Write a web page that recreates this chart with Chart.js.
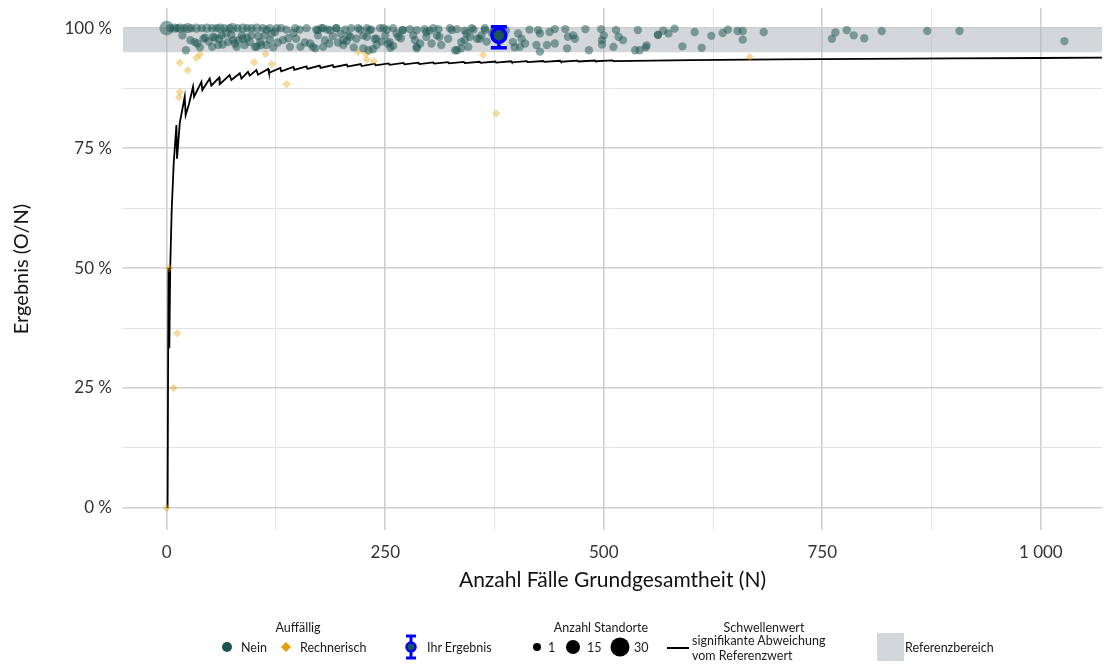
<!DOCTYPE html>
<html lang="de">
<head>
<meta charset="utf-8">
<title>Ergebnis nach Anzahl Fälle</title>
<script src="https://cdn.jsdelivr.net/npm/chart.js@4.4.1/dist/chart.umd.min.js"></script>
<style>
  html, body { margin: 0; padding: 0; background: #fff; }
  body { width: 1104px; height: 664px; position: relative; overflow: hidden; font-family: Lato, 'Open Sans', sans-serif; color: #1a1a1a; }
  .chart-box { position: absolute; left: 0; top: 0; width: 1104px; height: 600px; }
  .legend { position: absolute; left: 0; top: 0; width: 1104px; height: 664px; font-size: 12.5px; pointer-events: none; }
  .lg { position: absolute; white-space: nowrap; line-height: 1; transform: translateY(-50%); }
  .lg.center { transform: translate(-50%, -50%); }
  .sym { position: absolute; }
</style>
</head>
<body>
<div class="chart-box"><canvas id="trendChart"></canvas></div>

<!-- Legend -->
<div class="legend">
  <div class="lg center" style="left:298px; top:628px;">Auffällig</div>
  <svg class="sym" style="left:221px; top:641px;" width="12" height="12"><circle cx="6" cy="6" r="5" fill="#1b5552"/></svg>
  <div class="lg" style="left:241px; top:648px;">Nein</div>
  <svg class="sym" style="left:280px; top:641px;" width="12" height="12"><path d="M6 1 L11 6 L6 11 L1 6 Z" fill="#e69f00"/></svg>
  <div class="lg" style="left:300px; top:648px;">Rechnerisch</div>

  <svg class="sym" style="left:403px; top:634px;" width="16" height="26">
    <line x1="8" y1="2" x2="8" y2="24" stroke="#0000ff" stroke-width="3"/>
    <line x1="3" y1="2" x2="13" y2="2" stroke="#0000ff" stroke-width="3"/>
    <line x1="3" y1="24" x2="13" y2="24" stroke="#0000ff" stroke-width="3"/>
    <circle cx="8" cy="13" r="4.5" fill="#1b5552" stroke="#0000ff" stroke-width="2.5"/>
  </svg>
  <div class="lg" style="left:427px; top:648px;">Ihr Ergebnis</div>

  <div class="lg center" style="left:601px; top:628px;">Anzahl Standorte</div>
  <svg class="sym" style="left:532px; top:642px;" width="10" height="10"><circle cx="5" cy="5" r="4" fill="#000"/></svg>
  <div class="lg" style="left:548px; top:648px;">1</div>
  <svg class="sym" style="left:565px; top:639px;" width="16" height="16"><circle cx="8" cy="8" r="7" fill="#000"/></svg>
  <div class="lg" style="left:587px; top:648px;">15</div>
  <svg class="sym" style="left:610px; top:637px;" width="20" height="20"><circle cx="10" cy="10" r="9.5" fill="#000"/></svg>
  <div class="lg" style="left:634px; top:648px;">30</div>

  <svg class="sym" style="left:666px; top:645px;" width="24" height="6"><line x1="1" y1="3" x2="23" y2="3" stroke="#000" stroke-width="2"/></svg>
  <div class="lg center" style="left:764px; top:628px;">Schwellenwert</div>
  <div class="lg" style="left:692px; top:641px;">signifikante Abweichung</div>
  <div class="lg" style="left:692px; top:656px;">vom Referenzwert</div>

  <div class="sym" style="left:877px; top:633px; width:27px; height:28px; background:#d3d7da;"></div>
  <div class="lg" style="left:905px; top:648px;">Referenzbereich</div>
</div>

<script>
// ---- axis ticks ----
const xTickValues = [0, 125, 250, 375, 500, 625, 750, 875, 1000];
const xTickLabels = ['0', '', '250', '', '500', '', '750', '', '1 000'];
const yTickValues = [0, 12.5, 25, 37.5, 50, 62.5, 75, 87.5, 100];
const yTickLabels = ['0 %', '', '25 %', '', '50 %', '', '75 %', '', '100 %'];
const xRange = [-50, 1070];
const yRange = [-4.6, 104.2];

// ---- Referenzbereich ----
const refLow = 95;
const refHigh = 100;

// ---- Auffällig: Nein, Standorte mit 1 Standort (N, Ergebnis %) ----
const neinN = [
  4, 12, 20, 28, 40, 52, 57, 66, 72, 81, 92, 97, 110, 114, 118, 126,
  18, 22, 27, 32, 35, 38, 42, 44, 48, 53, 55, 52, 59, 60, 64, 63, 68, 70, 74, 76, 78, 80, 82, 86, 87, 89, 92, 95, 97, 101, 103, 105, 107, 108, 112, 114, 118, 120, 122, 124, 127,
  131, 137, 147, 152, 160, 171, 177, 184, 194, 204, 211, 221, 229, 234, 244, 252, 259,
  133, 139, 141, 145, 148, 153, 158, 164, 167, 170, 173, 179, 181, 186, 190, 196, 199, 202, 206, 208, 214, 217, 225, 231, 229, 236, 238, 240, 246, 250, 253, 256, 259,
  173, 179, 187, 194, 202, 210, 219, 225, 232, 240, 248, 255, 263,
  270, 278, 286, 295, 301, 311, 326, 332, 341, 351, 364, 372,
  270, 282, 286, 297, 305, 312, 324, 330, 337, 343, 349, 358, 364, 374,
  265, 268, 284, 286, 290, 297, 303, 309, 314, 322, 332, 337, 341, 345, 347, 355, 360, 366,
  388, 396, 398, 402, 406, 410, 404, 415, 425, 427, 423, 427, 435, 438, 444, 444, 456, 458, 459, 465, 467, 479, 483, 497, 498, 500, 498, 511, 514, 517, 522, 536, 539,
  541, 548, 549, 562, 562, 568, 574, 581, 590, 604, 612, 623, 636, 642, 653, 659, 659, 683, 761, 765, 778, 786, 798, 818, 870, 907, 1027
];
const neinY = [
  100, 100, 100, 100, 100, 100, 100, 100, 100, 100, 100, 100, 100, 99.7, 100, 100,
  98.5, 95.4, 97.5, 97.1, 96.8, 96.0, 97.8, 98.0, 97.2, 98.2, 98.0, 96.1, 96.5, 97.8, 96.6, 98.5, 98.9, 97.1, 98.6, 97.5, 96.8, 96.1, 97.5, 98.5, 97.8, 96.5, 98.0, 97.1, 98.5, 96.1, 96.1, 98.3, 97.1, 96.5, 98.5, 96.5, 97.5, 98.9, 96.0, 99.2, 97.0,
  100, 99.7, 100, 99.7, 100, 99.7, 100, 99.7, 100, 99.7, 100, 99.7, 100, 99.7, 100, 99.7, 100,
  97.5, 97.9, 96.1, 99.0, 97.8, 96.1, 97.0, 96.8, 96.1, 95.8, 98.5, 96.1, 97.5, 96.8, 98.3, 97.0, 98.8, 96.5, 97.3, 98.5, 96.0, 97.8, 95.8, 95.4, 98.2, 95.6, 97.8, 96.5, 97.2, 98.5, 96.8, 95.9, 96.3,
  99.6, 100, 99.6, 100, 97.5, 98.2, 100, 98.5, 99.6, 97.8, 100, 97.1, 98.9,
  99.6, 99.8, 99.6, 99.8, 99.5, 99.8, 99.6, 99.8, 99.5, 99.7, 99.6, 99.0,
  99.6, 98.5, 96.1, 99.2, 100, 98.2, 100, 95.4, 97.1, 98.9, 100, 97.8, 100, 99.2,
  98.2, 97.9, 97.5, 95.8, 96.8, 98.2, 96.8, 98.5, 96.5, 97.8, 95.4, 95.8, 97.5, 96.1, 98.2, 97.8, 98.5, 97.2,
  99.5, 97.1, 96.0, 98.9, 97.8, 96.8, 96.1, 99.7, 99.6, 98.9, 96.5, 95.1, 96.5, 99.2, 99.8, 96.8, 99.8, 95.8, 98.2, 98.5, 97.8, 99.8, 95.4, 99.8, 97.5, 98.5, 96.6, 96.1, 99.6, 98.2, 97.5, 95.4, 99.6,
  95.4, 96.0, 96.4, 98.6, 98.6, 99.5, 98.9, 99.9, 96.2, 99.2, 95.9, 98.4, 99.0, 99.7, 99.4, 99.4, 97.6, 99.2, 97.8, 99.1, 99.6, 98.5, 97.9, 99.4, 99.4, 99.4, 97.3
];

// ---- Auffällig: Nein, Standorte mit mehreren Standorten ----
const neinMehrN = [0, 9, 15, 24, 34, 46, 61, 75, 87, 103];
const neinMehrY = [100, 100, 100, 100, 100, 100, 100, 100, 100, 100];
const neinMehrStandorte = [12, 2, 2, 3, 2, 2, 2, 3, 2, 2];

// ---- Auffällig: Rechnerisch ----
const rechnerischN = [0, 2.6, 8, 12, 14, 15, 15, 24, 34, 38, 100, 113, 120, 137, 219, 228, 229, 237, 362, 377, 667];
const rechnerischY = [0, 50, 25, 36.4, 85.6, 86.7, 92.8, 91.2, 93.8, 94.5, 92.9, 94.6, 92.5, 88.3, 95.0, 94.6, 93.4, 93.1, 94.4, 82.2, 94.0];

// ---- Ihr Ergebnis ----
const ihrN = 380;
const ihrY = 98.5;
const ihrLow = 95.9;
const ihrHigh = 100.3;

// ---- Schwellenwert signifikante Abweichung ----
const schwelleN = [
  1, 2, 3, 4, 5.7, 8, 11.1, 11.8, 15, 20.6, 21.7, 25.5, 30.1, 31.3, 39.7, 40.8, 49.2, 51.1, 59.9, 60.7,
  72, 74, 83.6, 85.5, 93, 95, 102.6, 104.5, 116, 117, 130, 131, 145, 146, 160, 161, 175, 176, 190, 191,
  206, 207, 222, 223, 238, 239, 254, 255, 271, 272, 288, 289, 305, 306, 322, 323, 340, 341, 358, 359,
  376, 377, 394, 395, 412, 413, 431, 432, 450, 451, 470, 471, 490, 491, 510, 511, 600, 700, 800, 900, 1000, 1075
];
const schwelleY = [
  0, 50, 33.3, 50, 62, 71.8, 79.8, 72.8, 80.3, 85.7, 81.9, 84.2, 87.8, 85.7, 88.8, 87.1, 89.5, 88.0, 89.7, 88.3,
  90.2, 89.2, 90.6, 89.5, 90.9, 90.1, 91.25, 90.3, 91.5, 90.7, 91.7, 91.0, 91.9, 91.3, 92.05, 91.5, 92.2, 91.7, 92.3, 91.85,
  92.4, 92.0, 92.5, 92.1, 92.6, 92.25, 92.65, 92.35, 92.75, 92.45, 92.8, 92.5, 92.85, 92.6, 92.9, 92.65, 92.95, 92.7, 93.0, 92.78,
  93.05, 92.83, 93.1, 92.88, 93.12, 92.92, 93.15, 92.97, 93.2, 93.0, 93.22, 93.05, 93.25, 93.1, 93.28, 93.12, 93.35, 93.5, 93.6, 93.7, 93.78, 93.85
];

// ---- colours ----
const TEAL = '#1b5552';
const TEAL_POINT = 'rgba(27, 85, 82, 0.5)';
const ORANGE_POINT = 'rgba(230, 159, 0, 0.38)';
const BLUE = '#0000ff';

// point radius from number of Standorte (area scale)
function radiusFor(n) {
  return 2.9 + 1.27 * Math.sqrt(n);
}

function toPoints(xs, ys) {
  return xs.map((x, i) => ({ x: x, y: ys[i] }));
}

// error bar for "Ihr Ergebnis", drawn just before that dataset
const errorBarPlugin = {
  id: 'errorBar',
  beforeDatasetDraw(chart, args) {
    if (chart.data.datasets[args.index].label !== 'Ihr Ergebnis') return;
    const { ctx, scales } = chart;
    const px = scales.x.getPixelForValue(ihrN);
    const top = scales.y.getPixelForValue(ihrHigh);
    const bottom = scales.y.getPixelForValue(ihrLow);
    ctx.save();
    ctx.strokeStyle = BLUE;
    ctx.lineWidth = 3.5;
    ctx.beginPath();
    ctx.moveTo(px, top); ctx.lineTo(px, bottom);
    ctx.moveTo(px - 8, top); ctx.lineTo(px + 8, top);
    ctx.moveTo(px - 8, bottom); ctx.lineTo(px + 8, bottom);
    ctx.stroke();
    ctx.restore();
  }
};

function noEdgePadding(scale) {
  scale.paddingTop = 0;
  scale.paddingBottom = 0;
  scale.paddingLeft = 0;
  scale.paddingRight = 0;
}

const ctx = document.getElementById('trendChart');

new Chart(ctx, {
  type: 'scatter',
  data: {
    datasets: [
      {
        label: 'Ihr Ergebnis',
        data: [{ x: ihrN, y: ihrY }],
        pointRadius: 7,
        pointBackgroundColor: TEAL,
        pointBorderColor: BLUE,
        pointBorderWidth: 3.5,
        order: 1
      },
      {
        label: 'Nein',
        data: toPoints(neinN, neinY),
        pointRadius: radiusFor(1),
        pointBackgroundColor: TEAL_POINT,
        pointBorderWidth: 0,
        order: 2
      },
      {
        label: 'Nein (mehrere Standorte)',
        data: toPoints(neinMehrN, neinMehrY),
        pointRadius: neinMehrStandorte.map(radiusFor),
        pointBackgroundColor: TEAL_POINT,
        pointBorderWidth: 0,
        order: 2
      },
      {
        label: 'Rechnerisch',
        data: toPoints(rechnerischN, rechnerischY),
        pointStyle: 'rectRot',
        pointRadius: 4.2,
        pointBackgroundColor: ORANGE_POINT,
        pointBorderWidth: 0,
        order: 3
      },
      {
        label: 'Schwellenwert',
        type: 'line',
        data: toPoints(schwelleN, schwelleY),
        borderColor: '#000',
        borderWidth: 1.8,
        pointRadius: 0,
        tension: 0,
        fill: false,
        order: 4
      },
      {
        label: 'Referenz unten',
        type: 'line',
        data: toPoints(xRange, [refLow, refLow]),
        borderWidth: 0,
        pointRadius: 0,
        fill: false,
        order: 10
      },
      {
        label: 'Referenzbereich',
        type: 'line',
        data: toPoints(xRange, [refHigh, refHigh]),
        borderWidth: 0,
        pointRadius: 0,
        backgroundColor: 'rgba(175, 182, 188, 0.55)',
        fill: '-1',
        order: 9
      }
    ]
  },
  options: {
    responsive: true,
    maintainAspectRatio: false,
    animation: false,
    layout: { autoPadding: false, padding: { left: 0, top: 8, right: 2, bottom: 0 } },
    plugins: {
      legend: { display: false },
      tooltip: { enabled: false }
    },
    scales: {
      x: {
        type: 'linear',
        min: xRange[0],
        max: xRange[1],
        afterBuildTicks: (scale) => { scale.ticks = xTickValues.map(v => ({ value: v })); },
        afterFit: (scale) => { scale.height = 70; noEdgePadding(scale); },
        grid: {
          drawTicks: false,
          color: (c) => (c.tick && xTickLabels[xTickValues.indexOf(c.tick.value)] ? '#cfcfcf' : '#e3e3e3'),
          lineWidth: (c) => (c.tick && xTickLabels[xTickValues.indexOf(c.tick.value)] ? 1.6 : 1)
        },
        border: { display: false },
        ticks: {
          padding: 12,
          color: '#333',
          font: { family: 'Lato', size: 17 },
          autoSkip: false,
          maxRotation: 0,
          callback: (value) => xTickLabels[xTickValues.indexOf(value)]
        },
        title: {
          display: true,
          text: 'Anzahl Fälle Grundgesamtheit (N)',
          color: '#111',
          font: { family: 'Lato', size: 21 },
          padding: { top: 4, bottom: 7 }
        }
      },
      y: {
        type: 'linear',
        min: yRange[0],
        max: yRange[1],
        afterBuildTicks: (scale) => { scale.ticks = yTickValues.map(v => ({ value: v })); },
        afterFit: (scale) => { scale.width = 123; noEdgePadding(scale); },
        grid: {
          drawTicks: false,
          color: (c) => (c.tick && yTickLabels[yTickValues.indexOf(c.tick.value)] ? '#cfcfcf' : '#e3e3e3'),
          lineWidth: (c) => (c.tick && yTickLabels[yTickValues.indexOf(c.tick.value)] ? 1.6 : 1)
        },
        border: { display: false },
        ticks: {
          padding: 11,
          color: '#333',
          font: { family: 'Lato', size: 17 },
          autoSkip: false,
          callback: (value) => yTickLabels[yTickValues.indexOf(value)]
        },
        title: {
          display: true,
          text: 'Ergebnis (O/N)',
          color: '#111',
          font: { family: 'Lato', size: 20 },
          padding: { top: 10, bottom: 0 }
        }
      }
    }
  },
  plugins: [errorBarPlugin]
});
</script>
</body>
</html>
